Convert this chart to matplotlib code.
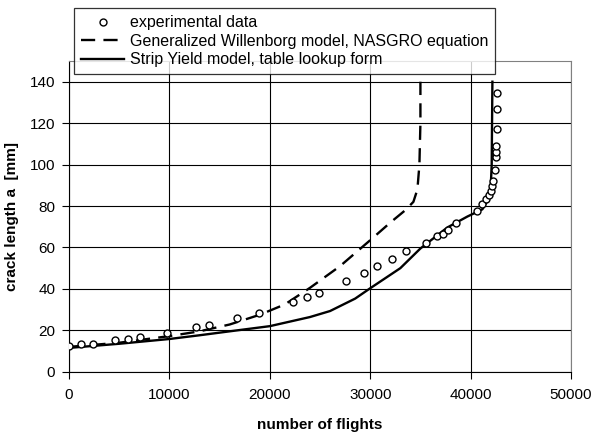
import numpy as np
import matplotlib.pyplot as plt

plt.rcParams['font.family'] = ['Liberation Sans', 'DejaVu Sans']

# experimental crack growth measurements
exp_flights = [0, 1230, 2370, 4530, 5830, 7100, 9770, 12670, 13970, 16700,
               18930, 22330, 23670, 24900, 27570, 29370, 30670, 32170, 33570,
               35600, 36670, 37270, 37770, 38570, 40670, 41170, 41500, 41800,
               42000, 42100, 42200, 42400, 42530, 42530, 42530, 42670, 42670, 42670]
exp_a = [12.5, 13.3, 13.6, 15.1, 15.9, 16.8, 18.9, 21.5, 22.6, 25.8,
         28.3, 33.6, 36.2, 38.1, 43.9, 47.9, 51.1, 54.6, 58.3,
         62.3, 65.5, 66.7, 68.2, 71.7, 77.6, 80.8, 83.2, 85.3,
         87.2, 89.6, 92.0, 97.3, 103.5, 106.1, 109.2, 117.3, 126.9, 134.4]

# Generalized Willenborg prediction
gw_flights = [0, 5000, 10000, 13000, 16000, 19000, 21500, 24000, 27000, 30000,
              32000, 33500, 34300, 34700, 34900, 35000, 35000]
gw_a = [12.0, 14.0, 17.2, 19.5, 22.8, 27.5, 32.5, 40.5, 51.0, 63.5,
        72.0, 78.0, 82.0, 88.0, 100.0, 120.0, 140.0]

# Strip Yield prediction
sy_flights = [0, 5000, 10000, 13000, 16000, 20000, 24000, 26000, 28500, 30000,
              33000, 35000, 37670, 39670, 41170, 41670, 42000, 42100, 42170]
sy_a = [11.5, 13.5, 15.8, 17.6, 19.5, 22.0, 26.4, 29.3, 35.3, 40.3,
        50.0, 59.5, 69.6, 74.9, 78.4, 82.4, 88.8, 100.0, 140.0]

fig = plt.figure(figsize=(5.94, 4.34), dpi=100)
ax = fig.add_axes([0.1162, 0.1435, 0.8451, 0.7159])

ax.plot(exp_flights, exp_a, 'o', mfc='white', mec='black', ms=5, mew=1.0,
        label='experimental data', zorder=4)
ax.plot(gw_flights, gw_a, color='black', lw=1.7, dashes=(6, 3.5),
        label='Generalized Willenborg model, NASGRO equation', zorder=3)
ax.plot(sy_flights, sy_a, color='black', lw=1.7,
        label='Strip Yield model, table lookup form', zorder=3)

ax.set_xlim(0, 50000)
ax.set_ylim(0, 150)
ax.set_xticks(np.arange(0, 50001, 10000))
ax.set_yticks(np.arange(0, 141, 20))
ax.grid(True, color='black', lw=0.8)
ax.set_axisbelow(True)
ax.tick_params(direction='out', length=5, width=0.8, labelsize=11, colors='black')
ax.tick_params(axis='x', pad=7)
ax.tick_params(axis='y', pad=5)

for s in ['top', 'right']:
    ax.spines[s].set_color('#808080')
for s in ['left', 'bottom']:
    ax.spines[s].set_color('black')

ax.set_xlabel('number of flights', fontsize=11, fontweight='bold', labelpad=11)
ax.set_ylabel('crack length a  [mm]', fontsize=11, fontweight='bold', labelpad=8)

leg = fig.legend(loc='upper left', bbox_to_anchor=(0.1246, 0.9816),
                 bbox_transform=fig.transFigure, fontsize=11.5, frameon=True,
                 fancybox=False, handlelength=2.7, handletextpad=0.35,
                 borderpad=0.45, labelspacing=0.22, borderaxespad=0)
leg.get_frame().set_edgecolor('black')
leg.get_frame().set_linewidth(0.9)

fig.savefig('out.png', dpi=100)
